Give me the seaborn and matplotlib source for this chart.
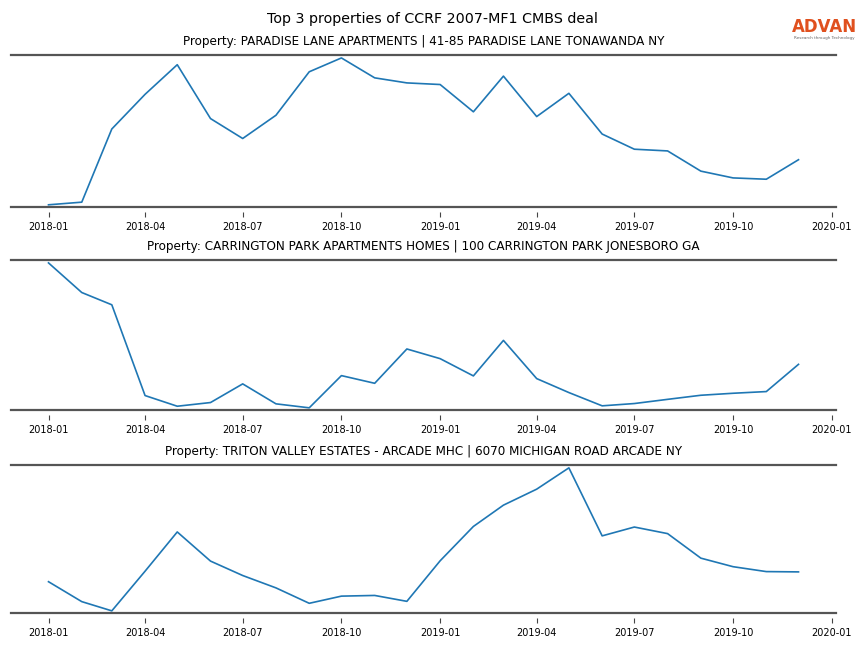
import pandas as pd
import seaborn as sns
import matplotlib.pyplot as plt
import matplotlib.dates as mdates

months = pd.date_range('2018-01-01', '2019-12-01', freq='MS')

titles = [
    'Property: PARADISE LANE APARTMENTS | 41-85 PARADISE LANE TONAWANDA NY',
    'Property: CARRINGTON PARK APARTMENTS HOMES | 100 CARRINGTON PARK JONESBORO GA',
    'Property: TRITON VALLEY ESTATES - ARCADE MHC | 6070 MICHIGAN ROAD ARCADE NY',
]

paradise = [2.7, 5.3, 77.7, 112, 141.3, 88, 68.3, 91.3, 134.3, 148, 128.3, 123.3,
            121.7, 94.7, 130, 90, 113, 72.7, 57.7, 56, 36, 29.3, 28, 47.3]
carrington = [147, 117.3, 105, 14, 3.3, 7, 25.7, 5.7, 1.7, 34, 26.3, 60.7,
              51, 33.7, 69.3, 31, 17, 3.7, 6, 10.2, 14.3, 16.3, 18, 45.3]
triton = [30, 9.7, 0.3, 40.7, 80.7, 51, 36.3, 23.7, 8, 15.3, 16, 10,
          51.3, 86.3, 108, 124.3, 146, 76.7, 85.7, 79, 54, 45.3, 40.3, 40]

series = [paradise, carrington, triton]
spine_col = '#555555'

W, H = 864, 648
# pixel rows of the top rule and bottom rule of each panel
tops = [55, 260, 465]
rules = [207, 410, 613]
gap = 5  # ticks sit a little below the bottom rule
x0, x1 = 11, 836

fig = plt.figure(figsize=(8.64, 6.48), dpi=100)

for top_px, rule_px, vals, title in zip(tops, rules, series, titles):
    bottom_px = rule_px + gap
    ax = fig.add_axes([x0 / W, 1 - bottom_px / H, (x1 - x0) / W, (bottom_px - top_px) / H])
    df = pd.DataFrame({'date': months, 'value': vals})
    sns.lineplot(x='date', y='value', data=df, ax=ax, color='#1f77b4', linewidth=1.2)

    lo, hi = min(vals), max(vals)
    r = hi - lo
    line_lo = lo - 0.015 * r
    top = hi + 0.02 * r
    h_px = bottom_px - top_px
    ax.set_ylim(line_lo - gap / (h_px - gap) * (top - line_lo), top)
    ax.axhline(line_lo, color=spine_col, linewidth=1.6, clip_on=False)

    for s in ['left', 'right', 'bottom']:
        ax.spines[s].set_visible(False)
    ax.spines['top'].set_color(spine_col)
    ax.spines['top'].set_linewidth(1.6)

    ax.set_yticks([])
    ax.set_ylabel('')
    ax.set_xlabel('')
    ax.xaxis.set_major_locator(mdates.MonthLocator(bymonth=[1, 4, 7, 10]))
    ax.xaxis.set_major_formatter(mdates.DateFormatter('%Y-%m'))
    ax.tick_params(axis='x', labelsize=7, length=3.5, width=0.8, color='#444444',
                   labelcolor='black')
    ax.set_title(title, fontsize=8.65, pad=7.5)

fig.suptitle('Top 3 properties of CCRF 2007-MF1 CMBS deal', fontsize=10.3, y=0.982)

# logo
fig.text(0.954, 0.958, 'ADVAN', color='#e0501e', fontsize=12, fontweight='semibold',
         ha='center', va='center')
fig.text(0.954, 0.941, 'Research through Technology', color='#666666', fontsize=3,
         ha='center', va='center')

plt.savefig('out.png', dpi=100)
